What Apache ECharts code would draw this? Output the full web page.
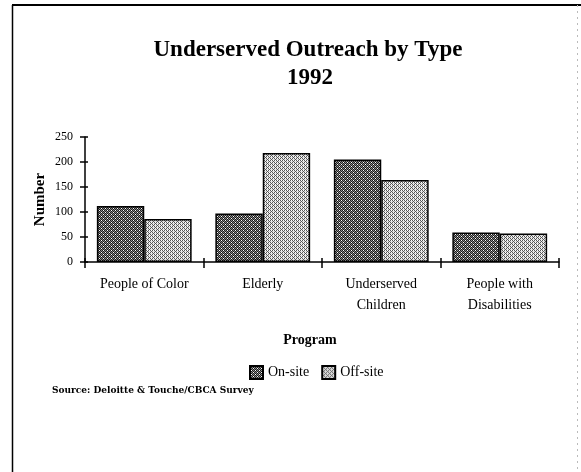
<!DOCTYPE html>
<html>
<head>
<meta charset="utf-8">
<script src="https://cdn.jsdelivr.net/npm/echarts@6/dist/echarts.min.js"></script>
<style>
html,body{margin:0;padding:0;background:#fff;}
#chart{width:581px;height:472px;}
</style>
</head>
<body>
<div id="chart"></div>
<script>
const categories = ['People of Color', 'Elderly', 'Underserved\nChildren', 'People with\nDisabilities'];
const onSite = [112, 97, 205, 59];
const offSite = [86, 218, 164, 57];
const yTicks = [0, 50, 100, 150, 200, 250];
const seriesNames = ['On-site', 'Off-site'];

function makePattern(dark) {
  const c = document.createElement('canvas');
  c.width = 4; c.height = 4;
  const ctx = c.getContext('2d');
  ctx.fillStyle = dark ? '#8a8a8a' : '#d8d8d8';
  ctx.fillRect(0, 0, 4, 4);
  ctx.fillStyle = dark ? '#1a1a1a' : '#555555';
  const pts = dark ? [[0,0],[1,1],[2,2],[3,3],[2,0],[0,2],[3,1],[1,3]] : [[0,0],[1,1],[2,2],[3,3],[0,2],[2,0]];
  pts.forEach(p => ctx.fillRect(p[0], p[1], 1, 1));
  ctx.fillStyle = '#ffffff';
  const w = dark ? [[1,0],[3,2]] : [[1,0],[3,2],[1,2],[3,0]];
  w.forEach(p => ctx.fillRect(p[0], p[1], 1, 1));
  return {image: c, repeat: 'repeat'};
}
const patOn = makePattern(true);
const patOff = makePattern(false);

const serif = '"Liberation Serif", "DejaVu Serif", serif';
const chart = echarts.init(document.getElementById('chart'), null, {renderer: 'canvas'});
chart.setOption({
  animation: false,
  backgroundColor: '#fff',
  grid: {left: 85, right: 22, top: 137, bottom: 210, containLabel: false},
  xAxis: [{
    type: 'category',
    data: categories,
    axisLine: {lineStyle: {color: '#000', width: 1.5}},
    axisTick: {show: true, length: 6, lineStyle: {color: '#000', width: 1.5}},
    axisLabel: {fontFamily: serif, fontSize: 14, color: '#000', margin: 12, lineHeight: 21}
  }, {
    type: 'category',
    data: categories,
    position: 'bottom',
    axisLine: {show: false},
    axisTick: {show: true, inside: true, length: 4, lineStyle: {color: '#000', width: 1.5}},
    axisLabel: {show: false}
  }],
  yAxis: [{
    type: 'value',
    min: 0, max: 250, interval: 50,
    splitLine: {show: false},
    axisLine: {show: true, lineStyle: {color: '#000', width: 1.5}},
    axisTick: {show: true, length: 5, lineStyle: {color: '#000', width: 1.5}},
    axisLabel: {fontFamily: serif, fontSize: 12, color: '#000', margin: 12},
    name: 'Number',
    nameLocation: 'middle',
    nameGap: 37,
    nameMoveOverlap: false,
    nameRotate: 90,
    nameTextStyle: {fontFamily: serif, fontSize: 15, fontWeight: 'bold', color: '#000'}
  }, {
    type: 'value',
    min: 0, max: 250, interval: 50,
    position: 'left',
    splitLine: {show: false},
    axisLine: {show: false},
    axisTick: {show: true, inside: true, length: 3, lineStyle: {color: '#000', width: 1.5}},
    axisLabel: {show: false}
  }],
  legend: {
    data: seriesNames,
    left: 244, top: 360,
    itemWidth: 13, itemHeight: 13, itemGap: 12,
    textStyle: {fontFamily: serif, fontSize: 14, color: '#000'},
    icon: 'rect'
  },
  series: [
    {name: seriesNames[0], type: 'bar', data: onSite, barGap: '0%', barCategoryGap: '20%',
     itemStyle: {color: patOn, borderColor: '#000', borderWidth: 1.5}},
    {name: seriesNames[1], type: 'bar', data: offSite,
     itemStyle: {color: patOff, borderColor: '#000', borderWidth: 1.5}}
  ],
  graphic: [
    {type: 'text', x: 308, y: 50, style: {text: 'Underserved Outreach by Type', font: 'bold 23px ' + serif, fill: '#000', align: 'center', verticalAlign: 'middle'}},
    {type: 'text', x: 310, y: 78, style: {text: '1992', font: 'bold 23px ' + serif, fill: '#000', align: 'center', verticalAlign: 'middle'}},
    {type: 'text', x: 310, y: 340, style: {text: 'Program', font: 'bold 14px ' + serif, fill: '#000', align: 'center', verticalAlign: 'middle'}},
    {type: 'text', x: 52, y: 391, style: {text: 'Source: Deloitte & Touche/CBCA Survey', font: 'bold 9px "DejaVu Serif", serif', fill: '#000', align: 'left', verticalAlign: 'middle'}},
    {type: 'line', shape: {x1: 12, y1: 5, x2: 581, y2: 5}, style: {stroke: '#000', lineWidth: 2}},
    {type: 'line', shape: {x1: 12.5, y1: 5, x2: 12.5, y2: 472}, style: {stroke: '#000', lineWidth: 1.5}},
    {type: 'line', shape: {x1: 577.5, y1: 5, x2: 577.5, y2: 472}, style: {stroke: '#bbb', lineWidth: 1, lineDash: [2, 4]}}
  ]
});
</script>
</body>
</html>
